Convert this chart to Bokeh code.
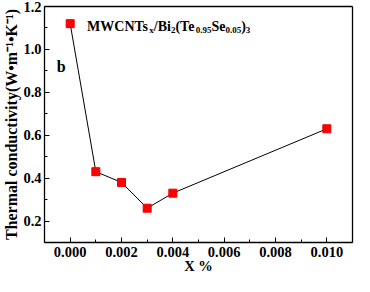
from bokeh.plotting import figure
from bokeh.models import Range1d, FixedTicker, Label, LinearAxis
from bokeh.embed import file_html
from bokeh.resources import INLINE

# ---- data ----
x_pct = [0.000, 0.001, 0.002, 0.003, 0.004, 0.010]
kappa = [1.12, 0.43, 0.38, 0.26, 0.33, 0.63]

x_ticks = [0.000, 0.002, 0.004, 0.006, 0.008, 0.010]
x_tick_labels = ["0.000", "0.002", "0.004", "0.006", "0.008", "0.010"]
y_ticks = [0.2, 0.4, 0.6, 0.8, 1.0, 1.2]
y_tick_labels = ["0.2", "0.4", "0.6", "0.8", "1.0", "1.2"]

x_label = "X %"
y_label = "Thermal conductivity(W\u2022m\u207b\u00b9\u2022K\u207b\u00b9)"
panel_letter = "b"
# title fragments: (text, is_subscript)
title_parts = [("MWCNTs", False), ("x", True), ("/Bi", False), ("2", True),
               ("(Te", False), ("0.95", True), ("Se", False), ("0.05", True),
               (")", False), ("3", True)]

FONT = "Liberation Serif"

p = figure(width=354, height=276, output_backend="svg", toolbar_location=None,
           x_range=Range1d(-0.001, 0.011), y_range=Range1d(0.1, 1.2),
           min_border_left=30, min_border_right=2, min_border_top=6, min_border_bottom=28)
p.background_fill_color = "white"
p.border_fill_color = "white"
p.outline_line_color = None
p.xgrid.visible = False
p.ygrid.visible = False

xax = p.below[0]
yax = p.left[0]

# frame top / right edges as bare axes
for loc in ("above", "right"):
    a = LinearAxis(ticker=FixedTicker(ticks=[]), major_label_text_font_size="0px",
                   major_tick_in=0, major_tick_out=0, minor_tick_in=0, minor_tick_out=0,
                   major_label_standoff=0, axis_line_color="black", axis_line_width=1.3)
    p.add_layout(a, loc)

p.line(x_pct, kappa, line_color="black", line_width=1)
p.scatter(x_pct, kappa, marker="square", size=8, fill_color="#ff0000", line_color="#ee0000")

for ax, ticks, labels in ((xax, x_ticks, x_tick_labels), (yax, y_ticks, y_tick_labels)):
    step = ticks[1] - ticks[0]
    ax.ticker = FixedTicker(ticks=ticks, minor_ticks=[t + step / 2 for t in [ticks[0] - step] + ticks])
    ax.major_label_overrides = {t: l for t, l in zip(ticks, labels)}
    ax.major_tick_in = 5
    ax.major_tick_out = 0
    ax.minor_tick_in = 3
    ax.minor_tick_out = 0
    ax.axis_line_color = "black"
    ax.axis_line_width = 1.3
    ax.major_tick_line_color = "black"
    ax.minor_tick_line_color = "black"
    ax.major_label_text_font = FONT
    ax.major_label_text_font_style = "bold"
    ax.major_label_text_font_size = "14.5px"
    ax.major_label_text_color = "black"
    ax.axis_label_text_font = FONT
    ax.axis_label_text_font_style = "bold"
    ax.axis_label_text_color = "black"

xax.axis_label = x_label
yax.axis_label = y_label
xax.axis_label_text_font_size = "14.5px"
yax.axis_label_text_font_size = "16px"
xax.major_label_standoff = 4
xax.axis_label_standoff = -2
yax.major_label_standoff = 3
yax.axis_label_standoff = 0

# panel letter
p.add_layout(Label(x=-0.00052, y=0.92, text=panel_letter, text_font=FONT,
                   text_font_style="bold", text_font_size="16px", text_color="black",
                   text_baseline="alphabetic"))

# title with subscripts
widths = {"M": 0.944, "W": 1.0, "C": 0.722, "N": 0.722, "T": 0.667, "s": 0.389, "x": 0.5,
          "/": 0.278, "B": 0.667, "i": 0.278, "(": 0.333, "e": 0.444, "S": 0.556,
          ")": 0.333, ".": 0.25}
main_size, sub_size = 14, 9
off = 0.0
for txt, sub in title_parts:
    size = sub_size if sub else main_size
    p.add_layout(Label(x=0.00066, y=1.106, x_offset=off, y_offset=-3 if sub else 0,
                       text=txt, text_font=FONT, text_font_style="bold",
                       text_font_size=f"{size}px", text_color="black",
                       text_baseline="alphabetic"))
    off += sum(widths.get(c, 0.5) for c in txt) * size

open("out.html", "w").write(file_html(p, INLINE))
